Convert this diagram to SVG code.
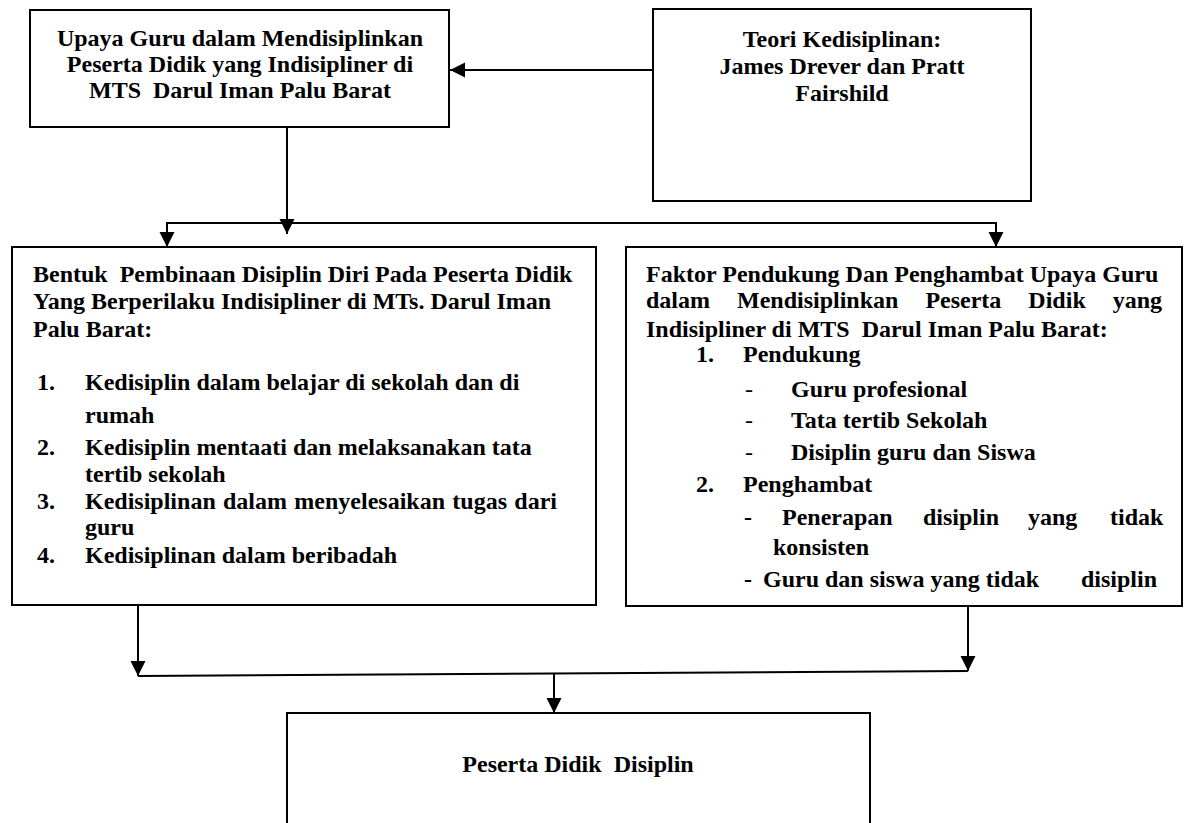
<svg xmlns="http://www.w3.org/2000/svg" width="1189" height="823" viewBox="0 0 1189 823">
<style>
.box{fill:#fff;stroke:#000;stroke-width:2}
.t{font-family:"Liberation Serif","Times New Roman",serif;font-weight:bold;font-size:24px;fill:#000;white-space:pre}
.c{text-anchor:middle}
.n{font-weight:normal}
.con{fill:none;stroke:#000;stroke-width:2}
</style>
<defs>
<marker id="ah" markerUnits="userSpaceOnUse" markerWidth="16" markerHeight="16" refX="15" refY="7.5" orient="auto">
<path d="M0,0 L15,7.5 L0,15 Z" fill="#000"/>
</marker>
</defs>
<rect width="1189" height="823" fill="#fff"/>
<g id="connectors">
<line class="con" x1="653" y1="70" x2="450" y2="70" marker-end="url(#ah)"/>
<line class="con" x1="287" y1="127" x2="287" y2="234" marker-end="url(#ah)"/>
<polyline class="con" points="167,247 167,223 996,223 996,247"/>
<line class="con" x1="167" y1="223" x2="167" y2="247" marker-end="url(#ah)"/>
<line class="con" x1="996" y1="223" x2="996" y2="247" marker-end="url(#ah)"/>
<line class="con" x1="138" y1="605" x2="138" y2="676" marker-end="url(#ah)"/>
<line class="con" x1="968" y1="606" x2="968" y2="671" marker-end="url(#ah)"/>
<line class="con" x1="138" y1="676" x2="968" y2="671"/>
<line class="con" x1="554" y1="673" x2="554" y2="713" marker-end="url(#ah)"/>
</g>
<g id="node-upaya">
<rect class="box" x="30" y="10" width="419" height="117"/>
<text class="t c"><tspan x="240" y="46">Upaya Guru dalam Mendisiplinkan</tspan><tspan x="240" y="72">Peserta Didik yang Indisipliner di</tspan><tspan x="240" y="98">MTS  Darul Iman Palu Barat</tspan></text>
</g>
<g id="node-teori">
<rect class="box" x="653" y="9" width="378" height="192"/>
<text class="t c"><tspan x="842" y="47">Teori Kedisiplinan:</tspan><tspan x="842" y="74">James Drever dan Pratt</tspan><tspan x="842" y="101">Fairshild</tspan></text>
</g>
<g id="node-bentuk">
<rect class="box" x="12" y="247" width="584" height="358"/>
<text class="t"><tspan x="33" y="282">Bentuk  Pembinaan Disiplin Diri Pada Peserta Didik</tspan><tspan x="33" y="309">Yang Berperilaku Indisipliner di MTs. Darul Iman</tspan><tspan x="33" y="337">Palu Barat:</tspan></text>
<text class="t"><tspan x="37" y="390">1.</tspan><tspan x="85" y="390">Kedisiplin dalam belajar di sekolah dan di</tspan><tspan x="85" y="423">rumah</tspan></text>
<text class="t"><tspan x="37" y="455">2.</tspan><tspan x="85" y="455">Kedisiplin mentaati dan melaksanakan tata</tspan><tspan x="85" y="482">tertib sekolah</tspan></text>
<text class="t"><tspan x="37" y="509">3.</tspan><tspan x="85" y="509" word-spacing="1.3">Kedisiplinan dalam menyelesaikan tugas dari</tspan><tspan x="85" y="535">guru</tspan></text>
<text class="t"><tspan x="37" y="563">4.</tspan><tspan x="85" y="563">Kedisiplinan dalam beribadah</tspan></text>
</g>
<g id="node-faktor">
<rect class="box" x="626" y="247" width="556" height="359"/>
<text class="t"><tspan x="646" y="282">Faktor Pendukung Dan Penghambat Upaya Guru</tspan><tspan x="646" y="308" word-spacing="21">dalam Mendisiplinkan Peserta Didik yang</tspan><tspan x="646" y="337">Indisipliner di MTS  Darul Iman Palu Barat:</tspan></text>
<text class="t"><tspan x="696" y="362">1.</tspan><tspan x="743" y="362">Pendukung</tspan></text>
<text class="t"><tspan class="n" x="745" y="397">-</tspan><tspan x="791" y="397">Guru profesional</tspan></text>
<text class="t"><tspan class="n" x="745" y="428">-</tspan><tspan x="791" y="428">Tata tertib Sekolah</tspan></text>
<text class="t"><tspan class="n" x="745" y="460">-</tspan><tspan x="791" y="460">Disiplin guru dan Siswa</tspan></text>
<text class="t"><tspan x="696" y="492">2.</tspan><tspan x="743" y="492">Penghambat</tspan></text>
<text class="t"><tspan x="744" y="525">-</tspan><tspan x="782" y="525">Penerapan</tspan><tspan x="923" y="525">disiplin</tspan><tspan x="1028" y="525">yang</tspan><tspan x="1110" y="525">tidak</tspan><tspan x="773" y="555">konsisten</tspan></text>
<text class="t"><tspan x="744" y="587">-</tspan><tspan x="763" y="587">Guru dan siswa yang tidak</tspan><tspan x="1081" y="587">disiplin</tspan></text>
</g>
<g id="node-peserta">
<rect class="box" x="287" y="713" width="583" height="130"/>
<text class="t c" x="578" y="772">Peserta Didik  Disiplin</text>
</g>
</svg>
